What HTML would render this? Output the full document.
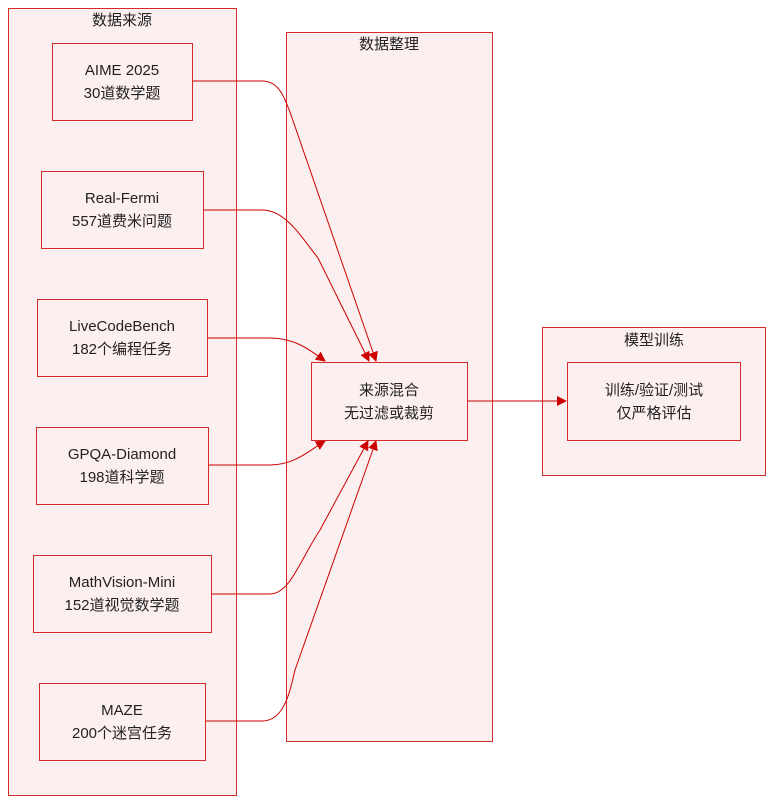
<!DOCTYPE html>
<html><head><meta charset="utf-8"><style>
body{margin:0;background:#fff;}
text{font-family:"Liberation Sans","Noto Sans CJK SC",sans-serif;font-size:15px;fill:#222;text-anchor:middle;}
</style></head><body>
<svg width="773" height="804" viewBox="0 0 773 804" xmlns="http://www.w3.org/2000/svg">
<defs><marker id="a" markerWidth="10" markerHeight="10" refX="9" refY="5" orient="auto" markerUnits="userSpaceOnUse"><path d="M0,0 L10,5 L0,10 z" fill="#cc0000"/></marker></defs>
<g fill="#fcefef" stroke="#d42a2a" stroke-width="1">
<rect x="8.5" y="8.5" width="228" height="787"/>
<rect x="286.5" y="32.5" width="206" height="709"/>
<rect x="542.5" y="327.5" width="223" height="148"/>
<rect x="52.5" y="43.5" width="140" height="77"/>
<rect x="41.5" y="171.5" width="162" height="77"/>
<rect x="37.5" y="299.5" width="170" height="77"/>
<rect x="36.5" y="427.5" width="172" height="77"/>
<rect x="33.5" y="555.5" width="178" height="77"/>
<rect x="39.5" y="683.5" width="166" height="77"/>
<rect x="311.5" y="362.5" width="156" height="78"/>
<rect x="567.5" y="362.5" width="173" height="78"/>
</g>
<g fill="none" stroke="#cc0000" stroke-width="1" marker-end="url(#a)">
<path d="M193,81 L262,81 C280,81 285,100 290,112 L376,361"/>
<path d="M204,210 L262,210 C285,210 300,235 318,258 L369,361"/>
<path d="M208,338 L270,338 C295,338 310,350 325,361"/>
<path d="M209,465 L270,465 C295,465 310,450 325,441"/>
<path d="M212,594 L270,594 C290,594 300,560 320,530 L368,441"/>
<path d="M206,721 L262,721 C285,721 290,690 295,670 L376,441"/>
<path d="M468,401 L566,401"/>
</g>
<text x="122" y="25">数据来源</text>
<text x="389" y="49">数据整理</text>
<text x="654" y="345">模型训练</text>
<text x="122" y="75">AIME 2025</text><text x="122" y="98">30道数学题</text>
<text x="122" y="203">Real-Fermi</text><text x="122" y="226">557道费米问题</text>
<text x="122" y="331">LiveCodeBench</text><text x="122" y="354">182个编程任务</text>
<text x="122" y="459">GPQA-Diamond</text><text x="122" y="482">198道科学题</text>
<text x="122" y="587">MathVision-Mini</text><text x="122" y="610">152道视觉数学题</text>
<text x="122" y="715">MAZE</text><text x="122" y="738">200个迷宫任务</text>
<text x="389" y="395">来源混合</text><text x="389" y="418">无过滤或裁剪</text>
<text x="654" y="395">训练/验证/测试</text><text x="654" y="418">仅严格评估</text>
</svg>
</body></html>
